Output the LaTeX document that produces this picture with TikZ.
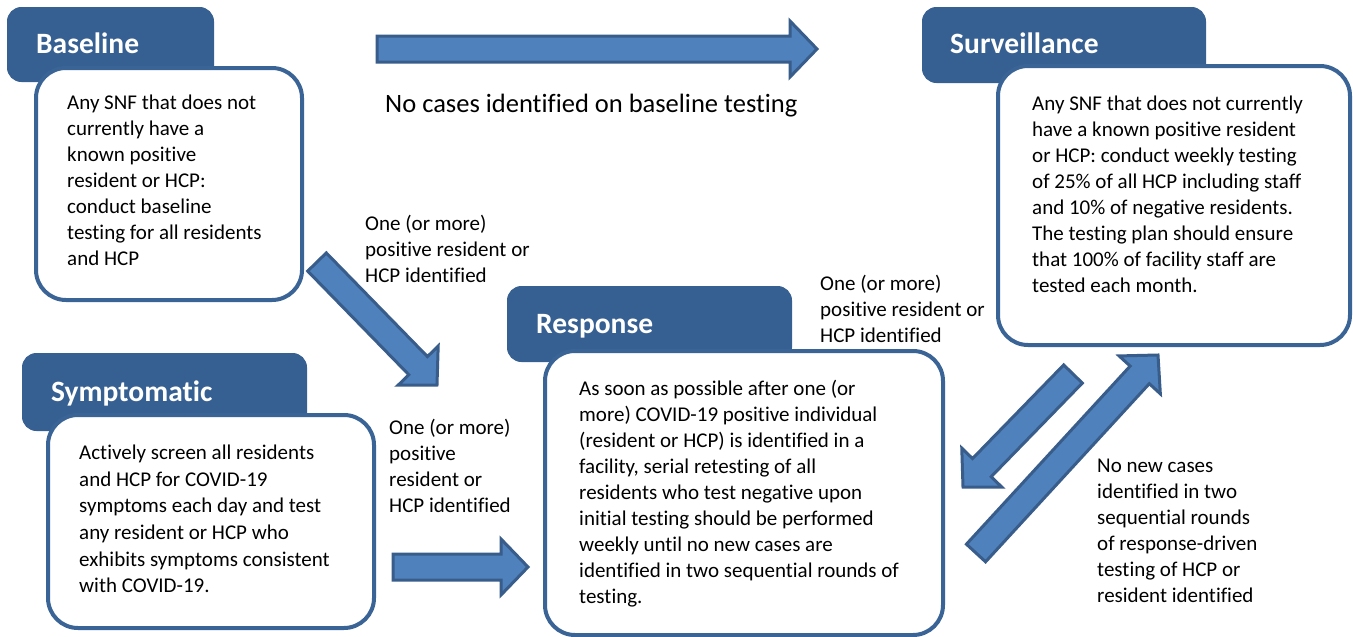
\documentclass[tikz,border=0pt]{standalone}
\usepackage{fontspec}
\setmainfont{Carlito}[Ligatures=NoCommon]
\usetikzlibrary{calc}
\definecolor{hdr}{HTML}{376092}
\definecolor{bodyline}{HTML}{3A6496}
\definecolor{arrfill}{HTML}{4F81BD}
\definecolor{arrline}{HTML}{385D8A}
\tikzset{
  header/.style={fill=hdr, draw=hdr, line width=1pt, rounded corners=14pt, anchor=north west, inner sep=0pt},
  bodybox/.style={fill=white, draw=bodyline, line width=4pt, rounded corners=30pt, anchor=north west, inner sep=0pt},
  title/.style={anchor=base west, inner sep=0pt, text=white, font=\fontsize{29.5}{35}\selectfont\bfseries},
  bodytext/.style={anchor=north west, inner sep=0pt, align=left, font=\fontsize{21}{26}\selectfont},
  biglabel/.style={anchor=base west, inner sep=0pt, font=\fontsize{26.5}{31}\selectfont},
  blockarrow/.style={fill=arrfill, draw=arrline, line width=3pt, line join=miter},
}
\newcommand{\blockarr}[2]{%
  \coordinate (#1b) at ($(#2)!27pt!(#1)$);
  \draw[blockarrow] ($(#1)!13pt!90:(#2)$) -- ($(#1b)!13pt!90:(#2)$) -- ($(#1b)!28pt!90:(#2)$) -- (#2)
    -- ($(#1b)!28pt!-90:(#2)$) -- ($(#1b)!13pt!-90:(#2)$) -- ($(#1)!13pt!-90:(#2)$) -- cycle;}
\begin{document}
\begin{tikzpicture}[x=1pt,y=-1pt]
\useasboundingbox[fill=white] (0,0) rectangle (1353,637);

% Baseline
\node[header, minimum width=206pt, minimum height=74pt] (bh) at (7,7) {};
\node[title] (bt) at (36,53) {Baseline};
\node[bodybox, minimum width=266pt, minimum height=232pt] (bb) at (34,66) {};
\node[bodytext] (bx) at (67,90.8) {\strut Any SNF that does not\\currently have a\\known positive\\resident or HCP:\\conduct baseline\\testing for all residents\\and HCP};

% Surveillance
\node[header, minimum width=283pt, minimum height=75pt] (sh) at (922,7) {};
\node[title] (st) at (950,53) {Surveillance};
\node[bodybox, minimum width=352pt, minimum height=279pt] (sb) at (996,64) {};
\node[bodytext] (sx) at (1032,91.8) {\strut Any SNF that does not currently\\have a known positive resident\\or HCP: conduct weekly testing\\of 25\% of all HCP including staff\\and 10\% of negative residents.\\The testing plan should ensure\\that 100\% of facility staff are\\tested each month.};

% Response
\node[header, minimum width=284pt, minimum height=75pt] (rh) at (507,286) {};
\node[title] (rt) at (536,333) {Response};
\node[bodybox, minimum width=398pt, minimum height=284pt] (rb) at (543,349) {};
\node[bodytext] (rx) at (579,376.8) {\strut As soon as possible after one (or\\more) COVID-19 positive individual\\(resident or HCP) is identified in a\\facility, serial retesting of all\\residents who test negative upon\\initial testing should be performed\\weekly until no new cases are\\identified in two sequential rounds of\\testing.};

% Symptomatic
\node[header, minimum width=284pt, minimum height=77pt] (yh) at (22,353) {};
\node[title] (yt) at (51,401) {Symptomatic};
\node[bodybox, minimum width=326pt, minimum height=213pt] (yb) at (46,413) {};
\node[bodytext, font=\fontsize{21}{26.6}\selectfont] (yx) at (79,440.8) {\strut Actively screen all residents\\and HCP for COVID-19\\symptoms each day and test\\any resident or HCP who\\exhibits symptoms consistent\\with COVID-19.};

% Arrows
\coordinate (t1s) at (377,49);   \coordinate (t1e) at (817,49);
\coordinate (d1s) at (317,262);  \coordinate (d1e) at (437,385);
\coordinate (h2s) at (393,567);  \coordinate (h2e) at (528,567);
\coordinate (d2s) at (1073,374); \coordinate (d2e) at (963,487);
\coordinate (d3s) at (976,553);  \coordinate (d3e) at (1158,355);
\blockarr{t1s}{t1e}
\blockarr{d1s}{d1e}
\blockarr{h2s}{h2e}
\blockarr{d2s}{d2e}
\blockarr{d3s}{d3e}

% Labels
\node[biglabel] (l1) at (385,112) {No cases identified on baseline testing};
\node[bodytext] (l2) at (365,211.8) {\strut One (or more)\\positive resident or\\HCP identified};
\node[bodytext] (l3) at (389,415.8) {\strut One (or more)\\positive\\resident or\\HCP identified};
\node[bodytext] (l4) at (820,271.8) {\strut One (or more)\\positive resident or\\HCP identified};
\node[bodytext] (l5) at (1097,453.8) {\strut No new cases\\identified in two\\sequential rounds\\of response-driven\\testing of HCP or\\resident identified};
\end{tikzpicture}
\end{document}
